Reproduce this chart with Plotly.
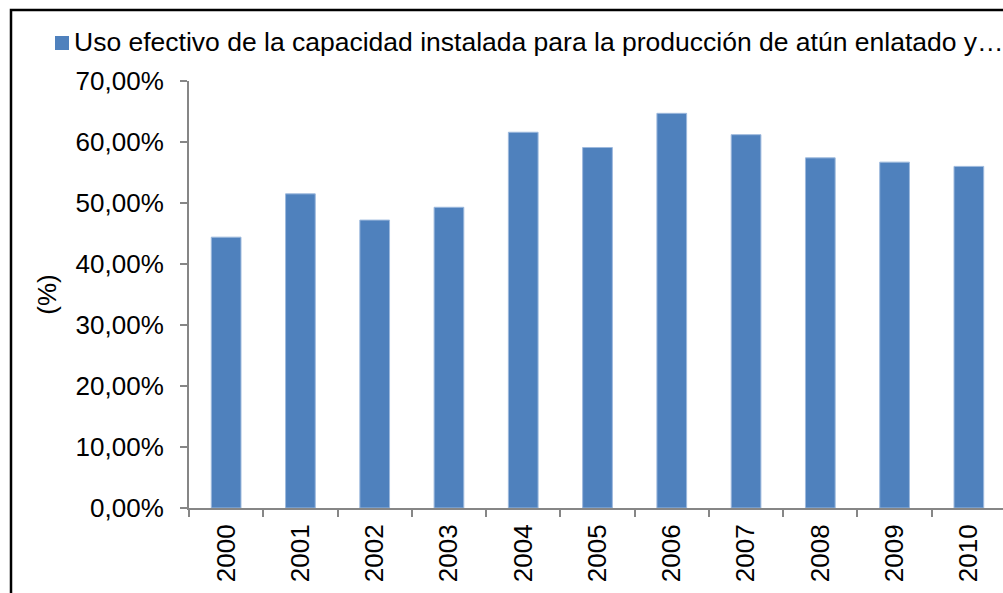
import plotly.graph_objects as go

years = ["2000", "2001", "2002", "2003", "2004", "2005", "2006", "2007", "2008", "2009", "2010"]
uso = [44.4, 51.5, 47.2, 49.3, 61.6, 59.1, 64.7, 61.2, 57.4, 56.7, 56.0]
series_name = "Uso efectivo de la capacidad instalada para la producción de atún enlatado y…"
y_ticks = [0, 10, 20, 30, 40, 50, 60, 70]
y_tick_text = ["0,00%", "10,00%", "20,00%", "30,00%", "40,00%", "50,00%", "60,00%", "70,00%"]

W, H = 1003, 593
L, T, B, R = 189, 81, 85, 0
pw = W - L - R
ph = H - T - B

FONT = "Liberation Sans, Arial, sans-serif"
FS = 26
FS_LEG = 26.5
BAR_COLOR = "#4F81BD"

fig = go.Figure()
fig.add_trace(go.Bar(
    x=years, y=uso, name=series_name,
    marker=dict(color=BAR_COLOR, line=dict(color="#9DB9DD", width=1)),
    showlegend=False,
))

def px_x(p):
    return (p - L) / pw

def px_y(p):
    return (H - B - p) / ph

fig.update_layout(
    width=W, height=H,
    margin=dict(l=L, r=R, t=T, b=B, pad=0),
    paper_bgcolor="white", plot_bgcolor="white",
    font=dict(family=FONT, size=FS, color="black"),
    bargap=0.6,
    showlegend=False,
    xaxis=dict(
        type="category", range=[-0.5, 10.5 - 3 / 74.4],
        showline=True, linecolor="#868686", linewidth=2,
        ticks="outside", tickson="boundaries", ticklen=7, tickcolor="#868686", tickwidth=2,
        tickangle=-90, tickfont=dict(size=FS, family=FONT),
        ticklabelstandoff=4,
        showgrid=False, zeroline=False,
    ),
    yaxis=dict(
        range=[0, 70], tickvals=y_ticks, ticktext=y_tick_text,
        showline=True, linecolor="#868686", linewidth=2,
        ticks="outside", ticklen=7, tickcolor="#868686", tickwidth=2,
        tickfont=dict(size=FS, family=FONT),
        ticklabelstandoff=11,
        showgrid=False, zeroline=False,
        title=dict(text="(%)", font=dict(size=FS, family=FONT), standoff=12),
    ),
    shapes=[
        dict(
            type="rect", xref="paper", yref="paper",
            x0=px_x(11), x1=px_x(W + 40), y0=px_y(H + 40), y1=px_y(10),
            line=dict(color="black", width=2.5), fillcolor="rgba(0,0,0,0)", layer="above",
        ),
        dict(
            type="rect", xref="paper", yref="paper",
            x0=px_x(55), x1=px_x(69), y0=px_y(50), y1=px_y(36),
            line=dict(width=0), fillcolor=BAR_COLOR,
        ),
    ],
    annotations=[dict(
        text=series_name, xref="paper", yref="paper",
        x=px_x(72), y=px_y(42), xanchor="left", yanchor="middle",
        showarrow=False, font=dict(size=FS_LEG, family=FONT, color="black"),
    )],
)

fig.write_html(
    "out.html",
    config={"displayModeBar": False},
    post_script="document.body.style.margin='0';document.body.style.overflow='hidden';",
)
